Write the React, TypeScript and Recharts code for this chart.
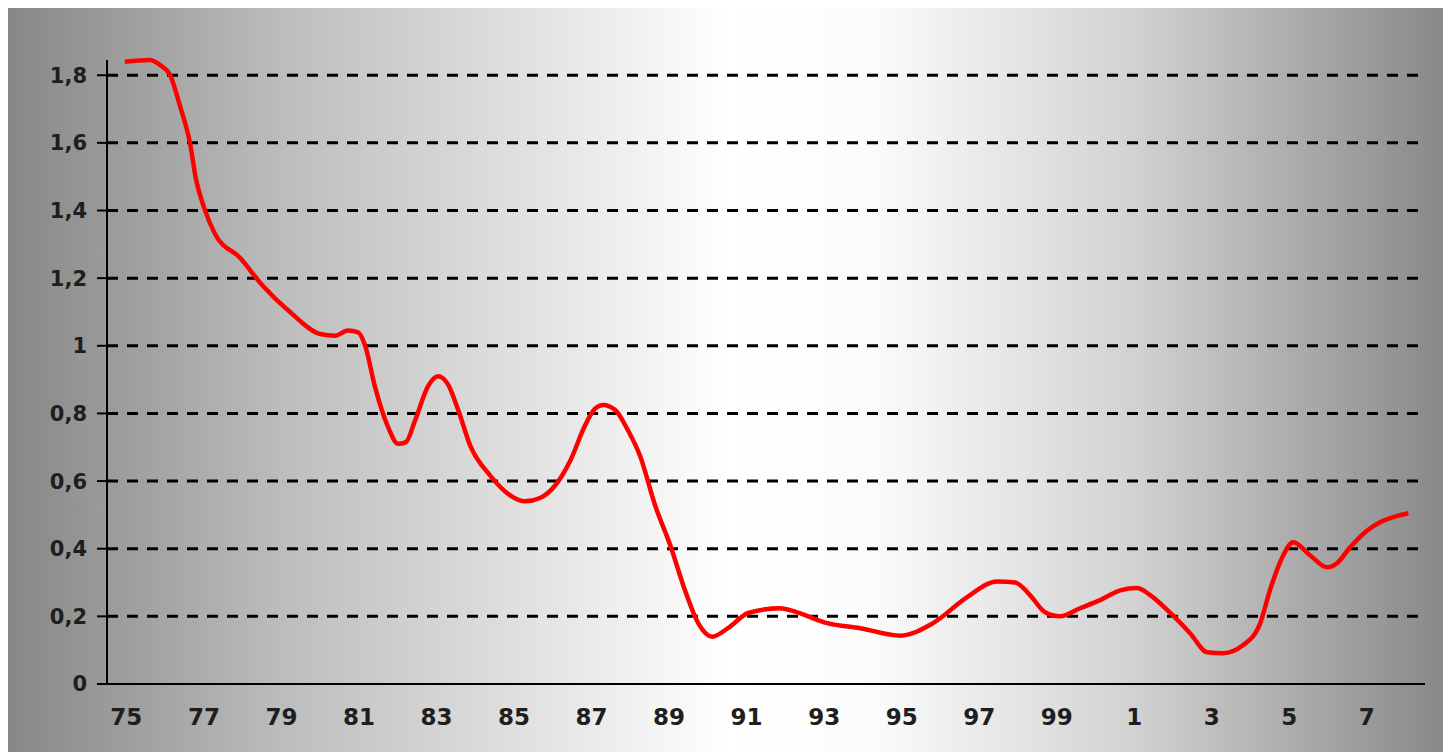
import React from "react";
import {
  LineChart,
  Line,
  XAxis,
  YAxis,
  ReferenceLine,
} from "recharts";

// decimal year of each reading (mid-year = .5)
const years = [
  1975.46, 1976.11, 1976.37, 1976.63, 1976.88, 1977.14, 1977.3, 1977.5, 1977.79,
  1978.43, 1979.0, 1979.72, 1980.5, 1980.88, 1981.22, 1981.48, 1981.66, 1981.91,
  1982.25, 1982.51, 1982.71, 1982.95, 1983.28, 1983.54, 1983.8, 1984.06, 1984.37,
  1984.88, 1985.4, 1985.78, 1986.17, 1986.56, 1986.95, 1987.33, 1987.59, 1987.8,
  1988.11, 1988.44, 1988.75, 1989.14, 1989.53, 1989.91, 1990.25, 1990.61, 1991.02,
  1991.54, 1992.36, 1992.8, 1993.58, 1994.43, 1995.46, 1996.31, 1997.19, 1997.96,
  1998.43, 1998.81, 1999.2, 1999.59, 2000.1, 2000.62, 2001.14, 2001.57, 2001.91,
  2002.43, 2002.94, 2003.38, 2003.79, 2004.31, 2004.75, 2005.0, 2005.32, 2005.6,
  2006.04, 2006.48, 2006.73, 2007.07, 2007.51, 2007.84, 2008.57,
];

const values = [
  1.84, 1.845, 1.83, 1.8, 1.71, 1.6, 1.49, 1.41, 1.33,
  1.26, 1.18, 1.1, 1.035, 1.03, 1.045, 1.04, 1.0, 0.88,
  0.76, 0.71, 0.715, 0.78, 0.88, 0.91, 0.885, 0.81, 0.705,
  0.617, 0.558, 0.54, 0.55, 0.587, 0.66, 0.764, 0.814, 0.825,
  0.81, 0.75, 0.675, 0.528, 0.41, 0.277, 0.18, 0.14, 0.165,
  0.21, 0.224, 0.212, 0.18, 0.165, 0.143, 0.18, 0.257, 0.303,
  0.3, 0.263, 0.212, 0.2, 0.224, 0.248, 0.277, 0.284, 0.263,
  0.21, 0.15, 0.094, 0.091, 0.115, 0.18, 0.277, 0.375, 0.419,
  0.38, 0.345, 0.357, 0.404, 0.454, 0.478, 0.505,
];

// year boundaries (tick marks) and labelled years (every second one)
const yearBounds = Array.from({ length: 35 }, (_, i) => 1975 + i);
const labelYears = [
  1975, 1977, 1979, 1981, 1983, 1985, 1987, 1989, 1991, 1993, 1995, 1997,
  1999, 2001, 2003, 2005, 2007,
];
const yTicks = [0, 0.2, 0.4, 0.6, 0.8, 1, 1.2, 1.4, 1.6, 1.8];

const data = years.map((t, i) => ({ t, v: values[i] }));
const labelTicks = labelYears.map((y) => y + 0.5);

const font = "'DejaVu Sans', Verdana, sans-serif";

export default function App() {
  return (
    <div
      style={{
        width: 1443,
        height: 744,
        background:
          "linear-gradient(to right, #878787 0%, #bfbfbf 20%, #ffffff 50%, #fbfbfb 60%, #d2d2d2 78%, #878787 100%)",
      }}
    >
      <LineChart
        width={1443}
        height={744}
        data={data}
        margin={{ top: 52, right: 26, left: 0, bottom: 0 }}
      >
        <XAxis
          xAxisId={0}
          dataKey="t"
          type="number"
          domain={[1975, 2009]}
          ticks={yearBounds}
          interval={0}
          height={8}
          tick={false}
          tickSize={7}
          axisLine={{ stroke: "#000", strokeWidth: 2 }}
          tickLine={{ stroke: "#000", strokeWidth: 2 }}
          allowDataOverflow
        />
        <XAxis
          xAxisId={1}
          dataKey="t"
          type="number"
          domain={[1975, 2009]}
          ticks={labelTicks}
          interval={0}
          height={60}
          axisLine={false}
          tickLine={false}
          tickSize={0}
          tickMargin={17}
          tickFormatter={(v: number) => String(Math.floor(v) % 100)}
          tick={{ fill: "#1e1e1e", fontSize: 23, fontWeight: 700, fontFamily: font }}
        />
        <YAxis
          width={99}
          domain={[0, 1.842]}
          ticks={yTicks}
          interval={0}
          tickSize={10}
          tickMargin={10}
          axisLine={{ stroke: "#000", strokeWidth: 2 }}
          tickLine={{ stroke: "#000", strokeWidth: 2 }}
          tickFormatter={(v: number) => String(v).replace(".", ",")}
          tick={{ fill: "#1e1e1e", fontSize: 21, fontWeight: 700, fontFamily: font }}
        />
        {yTicks
          .filter((v) => v > 0)
          .map((v) => (
            <ReferenceLine
              key={v}
              xAxisId={0}
              y={v}
              stroke="#000"
              strokeWidth={3}
              strokeDasharray="11 9"
            />
          ))}
        <Line
          xAxisId={0}
          dataKey="v"
          type="monotone"
          stroke="#ff0000"
          strokeWidth={4.5}
          dot={false}
          isAnimationActive={false}
        />
      </LineChart>
    </div>
  );
}
